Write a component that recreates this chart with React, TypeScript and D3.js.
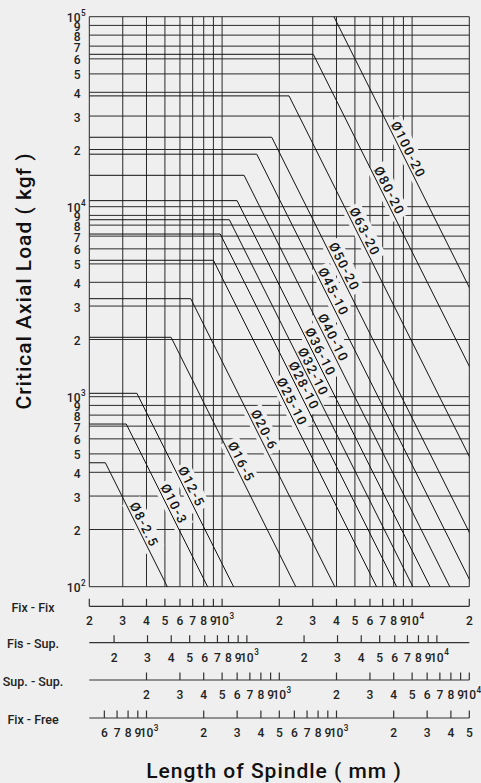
import React, { useEffect, useRef } from 'react';
import * as d3 from 'd3';

const W = 481;
const H = 783;
const FONT = "Roboto, 'DejaVu Sans', sans-serif";
const BG = '#eeefee';

// Spindle curves (Fix-Fix length in mm, critical load in kgf)
const spindles = ['Ø8-2.5', 'Ø10-3', 'Ø12-5', 'Ø16-5', 'Ø20-6', 'Ø25-10', 'Ø28-10', 'Ø32-10', 'Ø36-10', 'Ø40-10', 'Ø45-10', 'Ø50-20', 'Ø63-20', 'Ø80-20', 'Ø100-20'];
const maxLoad = [449, 718, 1042, 2054, 3280, 5223, 7180, 8540, 10760, 14630, 18900, 23200, 38300, 63400, 130000];
const kneeLength = [243, 313, 356, 539, 684, 900, 978, 1092, 1199, 1305, 1522, 1825, 2250, 3020, 3400];
const labelLoad = [204, 262, 323, 437, 644, 904, 1098, 1300, 1656, 1964, 3428, 4645, 7100, 11670, 19180];

// Y axis ticks
const yTicks = [100, 200, 300, 400, 500, 600, 700, 800, 900, 1000, 2000, 3000, 4000, 5000, 6000, 7000, 8000, 9000, 10000, 20000, 30000, 40000, 50000, 60000, 70000, 80000, 90000, 100000];
const yTickLabels = ['10^2', '2', '3', '4', '5', '6', '7', '8', '9', '10^3', '2', '3', '4', '5', '6', '7', '8', '9', '10^4', '2', '3', '4', '5', '6', '7', '8', '9', '10^5'];

// Bottom length scales
const axisNames = ['Fix - Fix', 'Fis - Sup.', 'Sup. - Sup.', 'Fix - Free'];
const axisFactor = [1, 1.35, 2, 4];
const fixFixTicks = [200, 300, 400, 500, 600, 700, 800, 900, 1000, 2000, 3000, 4000, 5000, 6000, 7000, 8000, 9000, 10000, 20000];
const fixFixLabels = ['2', '3', '4', '5', '6', '7', '8', '9', '10^3', '2', '3', '4', '5', '6', '7', '8', '9', '10^4', '2'];
const fisSupTicks = [200, 300, 400, 500, 600, 700, 800, 900, 1000, 2000, 3000, 4000, 5000, 6000, 7000, 8000, 9000, 10000];
const fisSupLabels = ['2', '3', '4', '5', '6', '7', '8', '9', '10^3', '2', '3', '4', '5', '6', '7', '8', '9', '10^4'];
const supSupTicks = [200, 300, 400, 500, 600, 700, 800, 900, 1000, 2000, 3000, 4000, 5000, 6000, 7000, 8000, 9000, 10000];
const supSupLabels = ['2', '3', '4', '5', '6', '7', '8', '9', '10^3', '2', '3', '4', '5', '6', '7', '8', '9', '10^4'];
const fixFreeTicks = [60, 70, 80, 90, 100, 200, 300, 400, 500, 600, 700, 800, 900, 1000, 2000, 3000, 4000, 5000];
const fixFreeLabels = ['6', '7', '8', '9', '10^3', '2', '3', '4', '5', '6', '7', '8', '9', '10^3', '2', '3', '4', '5'];

const yTitle = 'Critical Axial Load ( kgf )';
const xTitle = 'Length of Spindle ( mm )';

export default function App() {
  const ref = useRef<SVGSVGElement>(null);

  useEffect(() => {
    const svg = d3.select(ref.current);
    svg.selectAll('*').remove();

    const left = 89.3, right = 469.3, top = 16.7, bottom = 586.7;
    const x = d3.scaleLog().domain([200, 20000]).range([left, right]);
    const y = d3.scaleLog().domain([100, 100000]).range([bottom, top]);

    svg.append('rect').attr('width', W).attr('height', H).attr('fill', BG);

    svg.append('defs').append('clipPath').attr('id', 'plotclip')
      .append('rect').attr('x', left).attr('y', top).attr('width', right - left).attr('height', bottom - top);

    // grid
    const grid = svg.append('g').attr('stroke', '#2a2a2a').attr('stroke-width', 1);
    fixFixTicks.forEach(v => {
      grid.append('line').attr('x1', x(v)).attr('x2', x(v)).attr('y1', top).attr('y2', bottom);
    });
    yTicks.forEach(v => {
      grid.append('line').attr('x1', left).attr('x2', right).attr('y1', y(v)).attr('y2', y(v));
    });

    // label backgrounds + labels
    const angle = Math.atan2(y(100) - y(400), x(2000) - x(1000)) * 180 / Math.PI;
    const labelG = svg.append('g');
    const curveG = svg.append('g').attr('clip-path', 'url(#plotclip)');
    const textG = svg.append('g');

    spindles.forEach((name, i) => {
      const pMax = maxLoad[i];
      const kL = kneeLength[i];
      const endP = 50;
      const endL = kL * Math.sqrt(pMax / endP);
      const pts: [number, number][] = [[x(200), y(pMax)], [x(kL), y(pMax)], [x(endL), y(endP)]];
      curveG.append('path')
        .attr('d', d3.line()(pts) as string)
        .attr('fill', 'none').attr('stroke', '#111').attr('stroke-width', 1);

      const pa = labelLoad[i];
      const la = kL * Math.sqrt(pMax / pa);
      const ax = x(la), ay = y(pa);
      const g = textG.append('g').attr('transform', `translate(${ax},${ay}) rotate(${angle})`);
      const t = g.append('text')
        .attr('x', 0).attr('y', -2.5)
        .attr('text-anchor', 'middle')
        .attr('font-family', FONT).attr('font-size', 13).attr('font-weight', 500)
        .attr('letter-spacing', 1.6)
        .attr('fill', '#111')
        .text(name);
      const w = (t.node() as SVGTextElement).getComputedTextLength();
      labelG.append('rect')
        .attr('transform', `translate(${ax},${ay}) rotate(${angle})`)
        .attr('x', -w / 2 - 3).attr('y', -16).attr('width', w + 6).attr('height', 20)
        .attr('fill', BG);
    });

    // superscript text helper
    const drawLabel = (parent: any, lx: number, ly: number, label: string, anchor: string, size: number) => {
      if (label.startsWith('10^')) {
        const exp = label.slice(3);
        const base = parent.append('text')
          .attr('x', lx).attr('y', ly).attr('text-anchor', anchor)
          .attr('dominant-baseline', 'central')
          .attr('font-family', FONT).attr('font-size', size).attr('font-weight', 500).attr('fill', '#222')
          .text('10');
        const bw = (base.node() as SVGTextElement).getComputedTextLength();
        const sx = anchor === 'middle' ? lx + bw / 2 + 0.5 : lx + 0.5;
        parent.append('text')
          .attr('x', sx).attr('y', ly - 5.5)
          .attr('dominant-baseline', 'central')
          .attr('font-family', FONT).attr('font-size', size * 0.68).attr('font-weight', 500).attr('fill', '#222')
          .text(exp);
      } else {
        parent.append('text')
          .attr('x', lx).attr('y', ly).attr('text-anchor', anchor)
          .attr('dominant-baseline', 'central')
          .attr('font-family', FONT).attr('font-size', size).attr('font-weight', 500).attr('fill', '#222')
          .text(label);
      }
    };

    // y tick labels
    const yl = svg.append('g');
    yTicks.forEach((v, i) => {
      drawLabel(yl, 80.5, y(v) + 1.5, yTickLabels[i], 'end', 12);
    });

    // bottom axes
    const axisTicks = [fixFixTicks, fisSupTicks, supSupTicks, fixFreeTicks];
    const axisLabels = [fixFixLabels, fisSupLabels, supSupLabels, fixFreeLabels];
    const axisY = [606.3, 642.7, 680, 718];
    const ax = svg.append('g');
    axisNames.forEach((name, a) => {
      const ay = axisY[a];
      ax.append('line').attr('x1', left).attr('x2', right).attr('y1', ay).attr('y2', ay)
        .attr('stroke', '#333').attr('stroke-width', 1.2);
      axisTicks[a].forEach((v, i) => {
        const tx = x(v * axisFactor[a]);
        ax.append('line').attr('x1', tx).attr('x2', tx).attr('y1', ay).attr('y2', ay - 7.5)
          .attr('stroke', '#333').attr('stroke-width', 1.2);
        drawLabel(ax, tx, ay + 15, axisLabels[a][i], 'middle', 12);
      });
      ax.append('text')
        .attr('x', 33).attr('y', ay + 1)
        .attr('text-anchor', 'middle').attr('dominant-baseline', 'central')
        .attr('font-family', FONT).attr('font-size', 12.5).attr('font-weight', 500).attr('fill', '#222')
        .text(name);
    });

    // titles
    svg.append('text')
      .attr('transform', `translate(24,281) rotate(-90)`)
      .attr('text-anchor', 'middle').attr('dominant-baseline', 'central')
      .attr('font-family', FONT).attr('font-size', 21).attr('font-weight', 500).attr('fill', '#111')
      .attr('letter-spacing', 1.0)
      .text(yTitle);
    svg.append('text')
      .attr('x', 274).attr('y', 778)
      .attr('text-anchor', 'middle')
      .attr('font-family', FONT).attr('font-size', 21).attr('font-weight', 500).attr('fill', '#111')
      .attr('letter-spacing', 1.0)
      .text(xTitle);
  }, []);

  return (
    <svg
      ref={ref}
      width={W}
      height={H}
      style={{ position: 'absolute', left: 0, top: 0, display: 'block' }}
    />
  );
}
